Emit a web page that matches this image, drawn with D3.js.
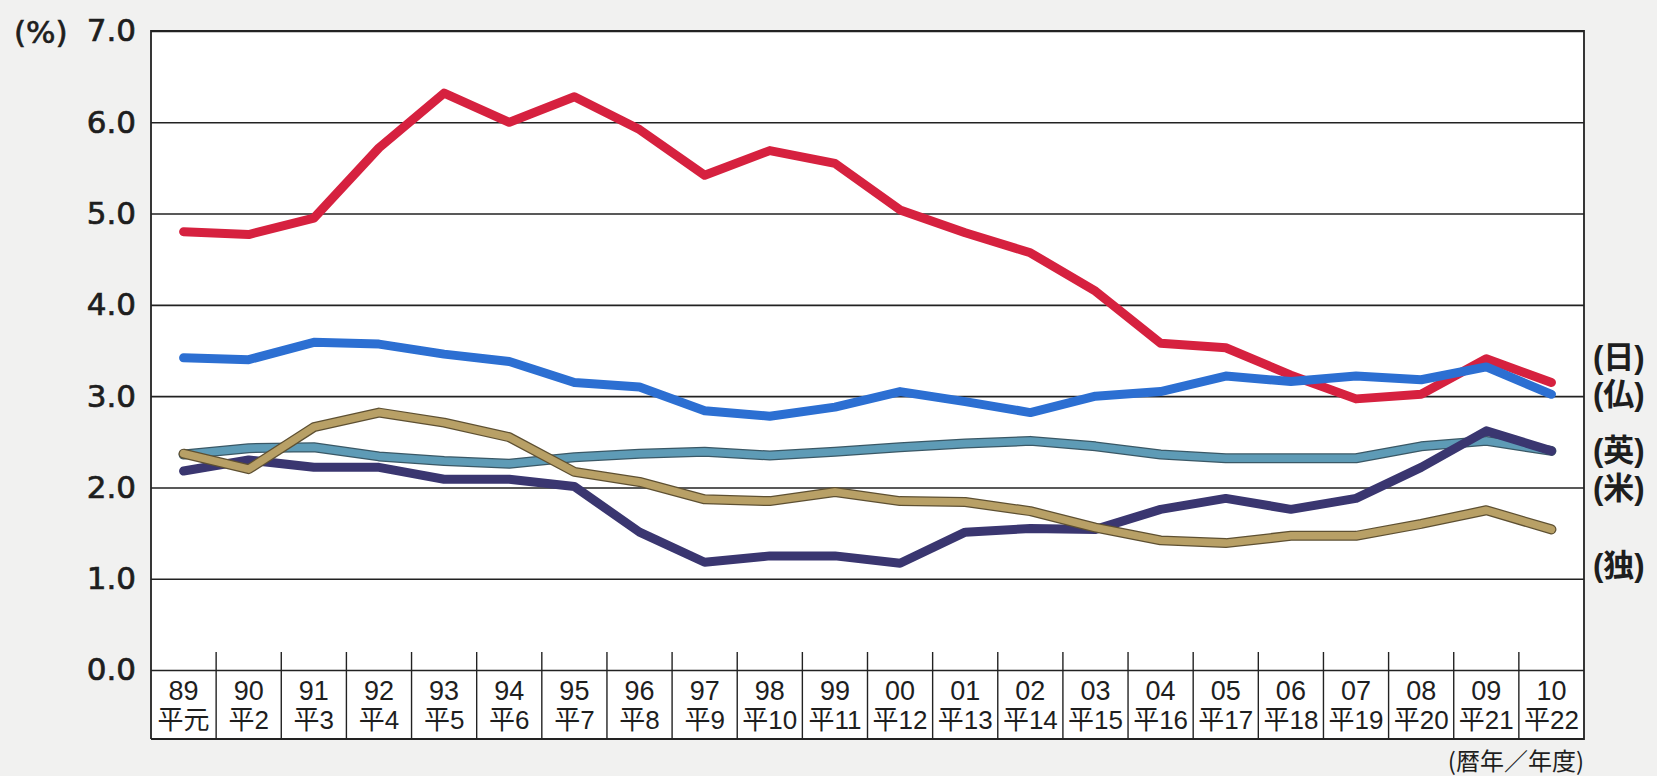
<!DOCTYPE html>
<html>
<head>
<meta charset="utf-8">
<script src="https://cdn.jsdelivr.net/npm/d3@7"></script>
<style>
  body { margin: 0; background: #f1f1f0; }
  svg { display: block; }
  text { font-family: "Liberation Sans", Arial, "Noto Sans CJK JP", sans-serif; fill: #1e1e1e; }
  .cjk { font-family: "Liberation Sans", "Noto Sans CJK JP", sans-serif; }
</style>
</head>
<body>
<div id="chart"></div>
<script>
// categories (calendar year / Heisei fiscal year)
const years = ["89","90","91","92","93","94","95","96","97","98","99","00","01","02","03","04","05","06","07","08","09","10"];
const eras = ["平元","平2","平3","平4","平5","平6","平7","平8","平9","平10","平11","平12","平13","平14","平15","平16","平17","平18","平19","平20","平21","平22"];

// values in %
const japan   = [4.80, 4.77, 4.95, 5.72, 6.32, 6.00, 6.28, 5.92, 5.42, 5.69, 5.55, 5.04, 4.79, 4.57, 4.15, 3.58, 3.53, 3.23, 2.97, 3.02, 3.41, 3.15];
const france  = [3.42, 3.40, 3.59, 3.57, 3.46, 3.38, 3.15, 3.10, 2.84, 2.78, 2.88, 3.05, 2.94, 2.82, 3.00, 3.05, 3.22, 3.16, 3.22, 3.18, 3.32, 3.02];
const uk      = [2.36, 2.43, 2.44, 2.34, 2.29, 2.26, 2.33, 2.37, 2.39, 2.35, 2.39, 2.44, 2.48, 2.51, 2.45, 2.36, 2.32, 2.32, 2.32, 2.45, 2.51, 2.40];
const us      = [2.18, 2.30, 2.22, 2.22, 2.09, 2.09, 2.01, 1.51, 1.18, 1.25, 1.25, 1.17, 1.51, 1.55, 1.54, 1.76, 1.88, 1.76, 1.88, 2.22, 2.62, 2.40];
const germany = [2.37, 2.20, 2.66, 2.82, 2.71, 2.55, 2.17, 2.06, 1.87, 1.85, 1.95, 1.85, 1.84, 1.74, 1.56, 1.42, 1.39, 1.47, 1.47, 1.60, 1.75, 1.54];

const yTicks = [0, 1, 2, 3, 4, 5, 6, 7];
const legendLabels = ["(日)", "(仏)", "(英)", "(米)", "(独)"];

const W = 1657, H = 776;
const plotLeft = 151, plotRight = 1584, plotTop = 31, zeroY = 670, boxBottom = 739;

const svg = d3.select("#chart").append("svg")
    .attr("width", W)
    .attr("height", H);

const x = d3.scaleBand()
    .domain(years)
    .range([plotLeft, plotRight])
    .padding(0);

const y = d3.scaleLinear()
    .domain([0, 7])
    .range([zeroY, plotTop]);

// white plot area including the category box
svg.append("rect")
    .attr("x", plotLeft).attr("y", plotTop)
    .attr("width", plotRight - plotLeft).attr("height", boxBottom - plotTop)
    .attr("fill", "#fff");

// gridlines
const grid = svg.append("g")
    .attr("transform", `translate(${plotLeft},0)`)
    .call(d3.axisLeft(y).tickValues(yTicks).tickSize(-(plotRight - plotLeft)).tickFormat(""));
grid.select(".domain").remove();
grid.selectAll("line").attr("stroke", "#222").attr("stroke-width", 1.6);

// y labels
const yAxis = svg.append("g")
    .attr("transform", `translate(${plotLeft},0)`)
    .call(d3.axisLeft(y).tickValues(yTicks).tickSize(0).tickPadding(15).tickFormat(d3.format(".1f")));
yAxis.select(".domain").remove();
yAxis.selectAll("text")
    .attr("font-size", 31)
    .attr("fill", "#1e1e1e")
    .attr("stroke", "#1e1e1e")
    .attr("stroke-width", 0.7)
    .style("font-family", "'DejaVu Sans', sans-serif");

svg.append("text")
    .attr("x", 14).attr("y", y(7) + 12)
    .attr("font-size", 31)
    .attr("stroke", "#1e1e1e").attr("stroke-width", 0.7)
    .style("font-family", "'DejaVu Sans', sans-serif")
    .text("(%)");

// frame
svg.append("path")
    .attr("d", `M${plotLeft},${boxBottom}V${plotTop}H${plotRight}V${boxBottom}H${plotLeft}`)
    .attr("fill", "none").attr("stroke", "#222").attr("stroke-width", 1.8);

// category dividers
svg.append("g").selectAll("line")
    .data(years.slice(1))
    .join("line")
    .attr("x1", d => x(d)).attr("x2", d => x(d))
    .attr("y1", zeroY - 18).attr("y2", boxBottom)
    .attr("stroke", "#222").attr("stroke-width", 1.4);

// category labels
const cats = svg.append("g").selectAll("g")
    .data(years)
    .join("g")
    .attr("transform", d => `translate(${x(d) + x.bandwidth() / 2},0)`);
cats.append("text")
    .attr("y", 700)
    .attr("text-anchor", "middle")
    .attr("font-size", 27)
    .text(d => d);
cats.append("text")
    .attr("class", "cjk")
    .attr("y", 729)
    .attr("text-anchor", "middle")
    .attr("font-size", 26)
    .text((d, i) => eras[i]);

svg.append("text")
    .attr("class", "cjk")
    .attr("x", plotRight).attr("y", 770)
    .attr("text-anchor", "end")
    .attr("font-size", 24)
    .style("font-family", "'Noto Sans CJK JP', sans-serif")
    .text("(暦年／年度)");

// lines
const line = d3.line()
    .x((d, i) => x(years[i]) + x.bandwidth() / 2)
    .y(d => y(d));

const series = [
    { values: japan,   color: "#d6213f", edge: null },
    { values: france,  color: "#2c6fd2", edge: null },
    { values: uk,      color: "#5e9bb6", edge: "#3a5866" },
    { values: us,      color: "#3a3670", edge: null },
    { values: germany, color: "#b8a066", edge: "#5e5032" }
];

series.forEach(s => {
    if (s.edge) {
        svg.append("path")
            .attr("d", line(s.values))
            .attr("fill", "none")
            .attr("stroke", s.edge)
            .attr("stroke-width", 10)
            .attr("stroke-linejoin", "round")
            .attr("stroke-linecap", "round");
    }
    svg.append("path")
        .attr("d", line(s.values))
        .attr("fill", "none")
        .attr("stroke", s.color)
        .attr("stroke-width", s.edge ? 7.5 : 9)
        .attr("stroke-linejoin", "round")
        .attr("stroke-linecap", "round");
});

// right-hand labels
const legendY = [357, 394, 450, 488, 565];
svg.append("g").selectAll("text")
    .data(legendLabels)
    .join("text")
    .attr("class", "cjk")
    .attr("x", 1593)
    .attr("y", (d, i) => legendY[i])
    .attr("dy", "0.35em")
    .attr("font-size", 31)
    .attr("font-weight", "bold")
    .text(d => d);
</script>
</body>
</html>
